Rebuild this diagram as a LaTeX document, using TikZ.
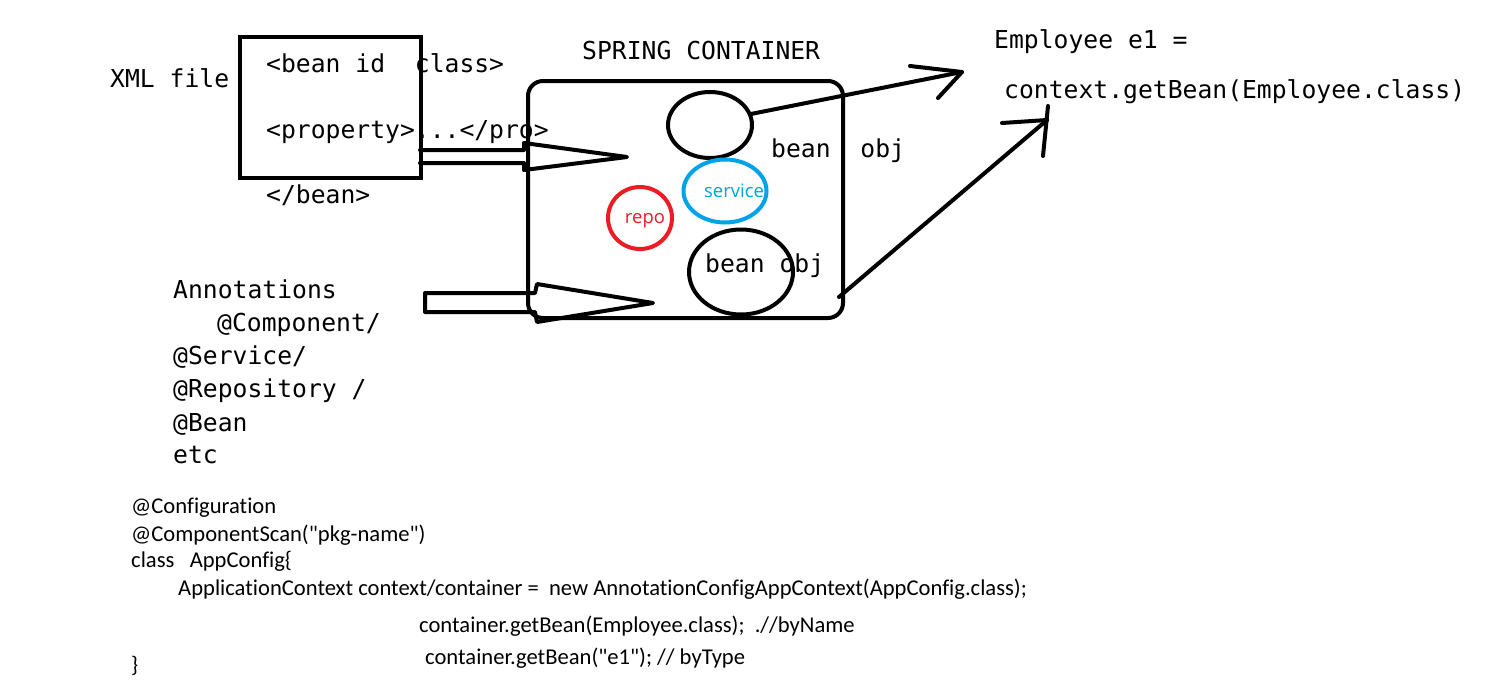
\documentclass[tikz,border=0pt]{standalone}
\usepackage{fontspec}
\setmainfont{Carlito}[Ligatures={TeXOff,NoCommon}]
\setmonofont{DejaVu Sans Mono}
\newfontfamily\opensans{Open Sans}
\usetikzlibrary{shapes.geometric}
\definecolor{pblue}{RGB}{0,162,232}
\definecolor{pred}{RGB}{237,28,36}
\begin{document}
\begin{tikzpicture}[x=1pt,y=-1pt,
  mono/.style={font=\ttfamily\fontsize{24.7}{30}\selectfont, inner sep=0pt, anchor=base west},
  cal/.style={font=\fontsize{22.6}{26}\selectfont, inner sep=0pt, anchor=base west},
  small/.style={font=\opensans\fontsize{18.5}{22}\selectfont, inner sep=0pt},
  stroke/.style={line width=4pt, line join=round, line cap=round},
  oval/.style={ellipse, draw, line width=4pt, inner sep=0pt}]
\useasboundingbox[fill=white] (0,0) rectangle (1499,694);

% XML part
\node[mono] (xml) at (110,87) {XML file};
\node[draw, line width=4pt, minimum width=181pt, minimum height=141pt, inner sep=0pt] (xmlbox) at (330.5,107.5) {};
\node[mono] (bean1) at (266,72) {<bean id~~class>};
\node[mono] (prop) at (266,138) {<property>...</pro>};
\node[mono] (bean2) at (266,203) {</bean>};

% container
\node[mono] (title) at (582,59) {SPRING CONTAINER};
\node[draw, line width=4pt, rounded corners=15pt, minimum width=315pt, minimum height=237pt, inner sep=0pt] (cont) at (685.5,199.5) {};
\node[oval, minimum width=84pt, minimum height=66pt] (c1) at (710,125) {};
\node[oval, draw=pblue, minimum width=83pt, minimum height=63pt] (svc) at (725,191) {};
\node[small, text=pblue] (svct) at (734,191) {service};
\node[oval, draw=pred, minimum width=64pt, minimum height=62pt] (repo) at (640,218) {};
\node[small, text=pred] (repot) at (645,221) {repo};
\node[oval, minimum width=104pt, minimum height=85pt] (c2) at (741,272) {};
\node[mono] (bo1) at (771,157) {bean~~obj};
\node[mono] (bo2) at (705,272) {bean obj};

% right text
\node[mono] (emp) at (994,48) {Employee e1 =};
\node[mono] (ctx) at (1004,98) {context.getBean(Employee.class)};

% annotations
\node[mono] (ann) at (173,298) {Annotations};
\node[mono] (a1) at (217,331) {@Component/};
\node[mono] (a2) at (173,364) {@Service/};
\node[mono] (a3) at (173,397) {@Repository /};
\node[mono] (a4) at (173,431) {@Bean};
\node[mono] (a5) at (173,463) {etc};

% bottom code
\node[cal] (l1) at (131,513) {@Configuration};
\node[cal] (l2) at (131,541) {@ComponentScan("pkg-name")};
\node[cal] (l3) at (131,567) {class~~~AppConfig\{};
\node[cal] (l4) at (178,595) {ApplicationContext context/container =~~new AnnotationConfigAppContext(AppConfig.class);};
\node[cal] (l5) at (419,632) {container.getBean(Employee.class);~~.//byName};
\node[cal] (l6) at (425,664) {container.getBean("e1"); // byType};
\node[cal] (l7) at (131,672) {\}};

% block arrow XML -> container
\coordinate (p1) at (420,150);
\coordinate (p2) at (420,163);
\coordinate (t1) at (627,157);
\draw[stroke] (p1) -- (524,150) -- (524,143) -- (t1) -- (524,170) -- (524,163) -- (p2);

% block arrow annotations -> container
\coordinate (q1) at (425,293);
\coordinate (t2) at (653,303);
\draw[stroke] (q1) -- (535,293) -- (537,284) -- (t2) -- (537,322) -- (535,312) -- (425,312) -- cycle;

% arrow from top bean to Employee e1
\coordinate (t3) at (962,72);
\draw[stroke] (c1.15) -- (t3);
\draw[stroke] (910,66) -- (t3) -- (938,98);

% arrow from container to context.getBean
\coordinate (s4) at (839,297);
\coordinate (t4) at (1047,120);
\draw[stroke] (s4) -- (t4);
\draw[stroke] (1002,123) -- (t4);
\draw[stroke] (1048,106) -- (1043,156);
\end{tikzpicture}
\end{document}
